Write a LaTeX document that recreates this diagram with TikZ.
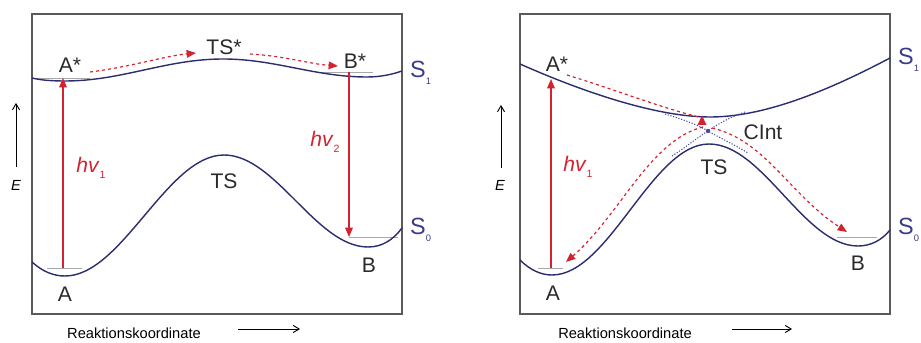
\documentclass[tikz,border=0pt]{standalone}
\usepackage{fontspec}
\setmainfont{Liberation Sans}
\usetikzlibrary{arrows.meta}
\definecolor{navy}{HTML}{2B2D6E}
\definecolor{slab}{HTML}{3A3C88}
\definecolor{myred}{HTML}{D42230}
\definecolor{txt}{HTML}{2A2A2A}
\definecolor{boxc}{HTML}{5A5A5A}
\definecolor{lev}{HTML}{A8A8A8}
\definecolor{dia}{HTML}{4A4AA8}
\tikzset{
  boxline/.style={draw=boxc,line width=1.3pt},
  pes/.style={draw=navy,line width=1.2pt},
  level/.style={draw=lev,line width=0.7pt},
  redarrow/.style={draw=myred,line width=1.1pt,-{Triangle[length=8pt,width=6.5pt]}},
  reddash/.style={draw=myred,line width=1pt,dash pattern=on 2.6pt off 2.6pt,-{Triangle[length=8pt,width=6.5pt]}},
  diab/.style={draw=dia,line width=0.9pt,dash pattern=on 1pt off 1.4pt},
  lbl/.style={text=txt,font=\fontsize{18}{20}\selectfont,inner sep=0pt},
  slbl/.style={text=slab,font=\fontsize{20}{22}\selectfont,inner sep=0pt,anchor=west},
  hvlbl/.style={text=myred,font=\fontsize{18}{20}\selectfont,inner sep=0pt},
  axlbl/.style={text=black,font=\fontsize{12.5}{14}\selectfont,inner sep=0pt},
  axarrow/.style={draw=black,line width=0.8pt,-{Straight Barb[length=5pt,width=6pt]}}
}
\begin{document}
\begin{tikzpicture}[x=0.03cm,y=-0.03cm]
\useasboundingbox (0,0) rectangle (921,343);
% ================= LEFT PANEL =================
\draw[boxline] (32,14) rectangle (402,314);
% levels
\draw[level] (47,268) -- (82,268);
\draw[level] (349,237) -- (398,237);
\draw[level] (37,78) -- (90,78);
\draw[level] (320,72) -- (373,72);
% S1
\draw[pes] (32,78) .. controls (42,80.5) and (55,81) .. (65,81)
  .. controls (122,81) and (166,59) .. (223,59)
  .. controls (275,59) and (315,77) .. (367,77)
  .. controls (380,77) and (392,74.5) .. (402,71);
% S0
\draw[pes] (32,262) .. controls (43,272) and (54,276) .. (65,276)
  .. controls (122,276) and (167,155) .. (224,155)
  .. controls (276,155) and (316,247) .. (368,247)
  .. controls (382,247) and (393,240) .. (402,228);
% labels
\node[lbl] (LAs) at (70,65) {A*};
\node[lbl] (LTSs) at (224,47) {TS*};
\node[lbl] (LBs) at (355,61) {B*};
\node[lbl] (LTS) at (224,181) {TS};
\node[lbl] (LA) at (65,294) {A};
\node[lbl] (LB) at (369,265) {B};
\node[slbl] (LS1) at (410,73) {S\raisebox{-0.55ex}{\fontsize{8}{9}\selectfont 1}};
\node[slbl] (LS0) at (410,230) {S\raisebox{-0.55ex}{\fontsize{8}{9}\selectfont 0}};
\node[hvlbl] (Lhv1) at (91,168) {\textit{hv}\raisebox{-0.6ex}{\fontsize{9}{10}\selectfont 1}};
\node[hvlbl] (Lhv2) at (325,142) {\textit{hv}\raisebox{-0.6ex}{\fontsize{9}{10}\selectfont 2}};
% arrows
\coordinate (La0) at (63,268); \coordinate (La1) at (63,78);
\draw[redarrow] (La0) -- (La1);
\coordinate (Lb0) at (349,72); \coordinate (Lb1) at (349,237);
\draw[redarrow] (Lb0) -- (Lb1);
\coordinate (Ld0) at (90,72); \coordinate (Ld1) at (196,53);
\draw[reddash] (Ld0) .. controls (130,67) and (165,56) .. (Ld1);
\coordinate (Le0) at (250,54); \coordinate (Le1) at (338,66);
\draw[reddash] (Le0) .. controls (285,56) and (310,64) .. (Le1);
% axes
\coordinate (LE0) at (16,167); \coordinate (LE1) at (16,103);
\draw[axarrow] (LE0) -- (LE1);
\node[axlbl] (LE) at (16,185) {\textit{E}};
\node[axlbl] (LRk) at (134,333) {Reaktionskoordinate};
\coordinate (LR0) at (238,329); \coordinate (LR1) at (300,329);
\draw[axarrow] (LR0) -- (LR1);
% ================= RIGHT PANEL =================
\draw[boxline] (520,14) rectangle (890,314);
\draw[level] (538,268) -- (563,268);
\draw[level] (837,237) -- (877,237);
% S1
\draw[pes] (520,64) .. controls (590,95) and (660,117) .. (710,117)
  .. controls (760,117) and (820,95) .. (890,58);
% S0
\draw[pes] (520,260) .. controls (530,270) and (541,275) .. (552,275)
  .. controls (609,275) and (652,144) .. (709,144)
  .. controls (763,144) and (804,246) .. (858,246)
  .. controls (871,246) and (882,240) .. (890,230);
% diabatic crossing
\coordinate (CI) at (708,131);
\draw[diab] (665,114) .. controls (685,120) and (700,126) .. (CI) .. controls (720,138) and (735,145) .. (748,153);
\draw[diab] (672,156) .. controls (685,148) and (698,137) .. (CI) .. controls (718,124) and (730,117) .. (745,112);
\fill[dia] (CI) circle (2.2);
% labels
\node[lbl] (RAs) at (557,64) {A*};
\node[lbl] (RCI) at (763,132) {CInt};
\node[lbl] (RTS) at (714,167) {TS};
\node[lbl] (RA) at (553,293) {A};
\node[lbl] (RB) at (858,263) {B};
\node[slbl] (RS1) at (898,60) {S\raisebox{-0.55ex}{\fontsize{8}{9}\selectfont 1}};
\node[slbl] (RS0) at (898,230) {S\raisebox{-0.55ex}{\fontsize{8}{9}\selectfont 0}};
\node[hvlbl] (Rhv1) at (578,167) {\textit{hv}\raisebox{-0.6ex}{\fontsize{9}{10}\selectfont 1}};
% arrows
\coordinate (Ra0) at (551,268); \coordinate (Ra1) at (551,79);
\draw[redarrow] (Ra0) -- (Ra1);
\coordinate (Rp0) at (567,75); \coordinate (Rp1) at (699,117);
\draw[draw=myred,line width=1pt,dash pattern=on 2.6pt off 2.6pt] (Rp0) .. controls (610,88) and (665,109) .. (Rp1);
\coordinate (Rtri) at (702,121);
\fill[myred] (Rtri) ++(-4.5,4) -- ++(9,0) -- ++(-4.5,-9.5) -- cycle;
\coordinate (Rq0) at (712,128); \coordinate (Rq1) at (847,232);
\draw[reddash] (Rq0) .. controls (765,140) and (790,195) .. (Rq1);
\coordinate (Rr0) at (703,127); \coordinate (Rr1) at (566,262);
\draw[reddash] (Rr0) .. controls (650,140) and (620,215) .. (Rr1);
% axes
\coordinate (RE0) at (501,168); \coordinate (RE1) at (501,105);
\draw[axarrow] (RE0) -- (RE1);
\node[axlbl] (RE) at (500,185) {\textit{E}};
\node[axlbl] (RRk) at (625,333) {Reaktionskoordinate};
\coordinate (RR0) at (732,329); \coordinate (RR1) at (792,329);
\draw[axarrow] (RR0) -- (RR1);
\end{tikzpicture}
\end{document}
